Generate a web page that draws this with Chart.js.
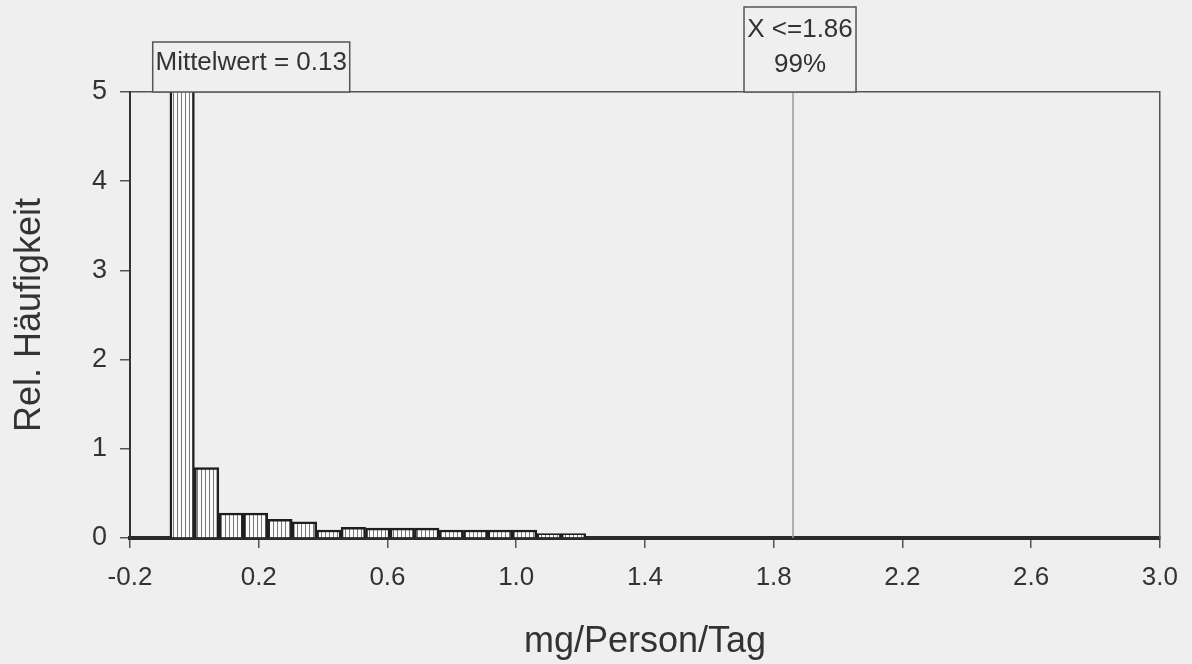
<!DOCTYPE html>
<html>
<head>
<meta charset="utf-8">
<script src="https://cdn.jsdelivr.net/npm/chart.js@4/dist/chart.umd.min.js"></script>
<style>
  html, body { margin: 0; padding: 0; background: #efefef; }
</style>
</head>
<body>
<canvas id="chart" width="1192" height="664"></canvas>
<script>
// histogram bins (centre of each class, mg/Person/Tag)
const binCenters = [-0.038, 0.038, 0.114, 0.19, 0.266, 0.342, 0.418, 0.494, 0.57,
                    0.646, 0.722, 0.798, 0.874, 0.95, 1.026, 1.102, 1.178];
// relative frequency per bin (first one runs off the top of the plot)
const relFreq = [10.4, 0.79, 0.28, 0.28, 0.21, 0.18, 0.09, 0.12, 0.11,
                 0.11, 0.11, 0.09, 0.09, 0.09, 0.09, 0.05, 0.05];

const meanValue = 0.13;
const p99Value = 1.86;
const p99Label = ['X <=1.86', '99%'];
const meanLabel = 'Mittelwert = 0.13';

const xRange = [-0.2, 3.0];
const xStep = 0.4;
const yRange = [0, 5];

const fontFamily = '"Liberation Sans", Arial, sans-serif';
const textColor = '#333';
const bgColor = '#efefef';

// vertical hatch used as bar fill
function stripePattern() {
  const c = document.createElement('canvas');
  c.width = 4; c.height = 4;
  const g = c.getContext('2d');
  g.fillStyle = '#fafafa';
  g.fillRect(0, 0, 4, 4);
  g.fillStyle = '#7a7a7a';
  g.fillRect(1, 0, 1, 4);
  return g.createPattern(c, 'repeat');
}

const boxPlugin = {
  id: 'labelBoxes',
  afterDraw(chart) {
    const ctx = chart.ctx;
    const xs = chart.scales.x;
    const top = chart.chartArea.top;
    ctx.save();
    ctx.font = '26px ' + fontFamily;
    ctx.textAlign = 'center';
    ctx.textBaseline = 'middle';
    ctx.strokeStyle = '#555';
    ctx.lineWidth = 1.5;

    // mean box
    let cx = xs.getPixelForValue(meanValue) + 15;
    let w = 197, h = 50;
    ctx.fillStyle = bgColor;
    ctx.fillRect(cx - w / 2, top - h, w, h);
    ctx.strokeRect(cx - w / 2, top - h, w, h);
    ctx.fillStyle = textColor;
    ctx.fillText(meanLabel, cx, top - h + 21);

    // percentile box
    cx = xs.getPixelForValue(p99Value) + 7;
    w = 112; h = 85;
    ctx.fillStyle = bgColor;
    ctx.fillRect(cx - w / 2, top - h, w, h);
    ctx.strokeRect(cx - w / 2, top - h, w, h);
    ctx.fillStyle = textColor;
    ctx.fillText(p99Label[0], cx, top - h + 23);
    ctx.fillText(p99Label[1], cx, top - h + 58);
    ctx.restore();
  }
};

const ctx = document.getElementById('chart');

new Chart(ctx, {
  data: {
    datasets: [
      {
        type: 'bar',
        data: binCenters.map((x, i) => ({ x: x, y: relFreq[i] })),
        backgroundColor: stripePattern(),
        borderColor: '#1e1e1e',
        borderWidth: 2.5,
        barPercentage: 1,
        categoryPercentage: 1,
        order: 2
      },
      {
        type: 'line',
        data: [{ x: p99Value, y: yRange[0] }, { x: p99Value, y: yRange[1] }],
        borderColor: '#9a9a9a',
        borderWidth: 1.5,
        pointRadius: 0,
        order: 1
      }
    ]
  },
  options: {
    responsive: false,
    devicePixelRatio: 1,
    animation: false,
    layout: { padding: { left: 0, top: 92, right: 29, bottom: 0 } },
    plugins: {
      legend: { display: false },
      tooltip: { enabled: false }
    },
    scales: {
      x: {
        type: 'linear',
        offset: false,
        min: xRange[0],
        max: xRange[1],
        afterFit(s) { s.height = 126; },
        ticks: {
          stepSize: xStep,
          color: textColor,
          font: { family: fontFamily, size: 26 },
          padding: 14,
          maxRotation: 0,
          callback: v => v.toFixed(1)
        },
        grid: { display: true, offset: false, drawOnChartArea: false, drawTicks: true, tickLength: 10, color: '#555', lineWidth: 1.5 },
        border: { display: true, color: '#2a2a2a', width: 4 },
        title: {
          display: true,
          text: 'mg/Person/Tag',
          color: textColor,
          font: { family: fontFamily, size: 36 },
          padding: { top: 0, bottom: 0 }
        }
      },
      x2: {
        type: 'linear',
        position: 'top',
        offset: false,
        min: xRange[0],
        max: xRange[1],
        afterFit(s) { s.height = 0; },
        ticks: { display: false },
        grid: { display: false },
        border: { display: true, color: '#555', width: 1.5 }
      },
      y: {
        min: yRange[0],
        max: yRange[1],
        afterFit(s) { s.width = 130; },
        ticks: {
          stepSize: 1,
          color: textColor,
          font: { family: fontFamily, size: 27 },
          padding: 13
        },
        grid: { display: true, drawOnChartArea: false, drawTicks: true, tickLength: 10, color: '#555', lineWidth: 1.5 },
        border: { display: true, color: '#333', width: 2 },
        title: {
          display: true,
          text: 'Rel. Häufigkeit',
          color: textColor,
          font: { family: fontFamily, size: 36 },
          padding: { top: 8, bottom: 0 }
        }
      },
      y2: {
        position: 'right',
        min: yRange[0],
        max: yRange[1],
        afterFit(s) { s.width = 0; },
        ticks: { display: false },
        grid: { display: false },
        border: { display: true, color: '#555', width: 1.5 }
      }
    }
  },
  plugins: [boxPlugin]
});
</script>
</body>
</html>
